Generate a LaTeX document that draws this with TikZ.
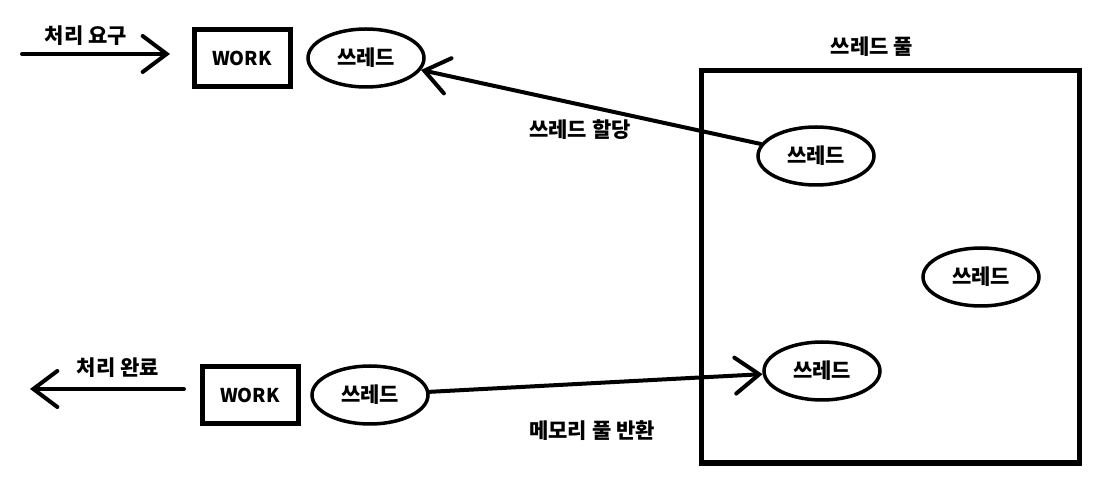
\documentclass[tikz,border=0pt]{standalone}
\usepackage{fontspec}
\setmainfont{Noto Sans CJK KR}
\usetikzlibrary{arrows.meta,shapes.geometric}
\tikzset{
  work/.style={draw, line width=5pt, minimum width=96pt, minimum height=57pt, inner sep=0pt, font=\bfseries\fontsize{19}{22}\selectfont},
  thr/.style={draw, ellipse, line width=3.5pt, minimum width=116pt, minimum height=58pt, inner sep=0pt, font=\bfseries\fontsize{21}{24}\selectfont},
  lbl/.style={font=\bfseries\fontsize{21}{24}\selectfont, inner sep=1pt},
  edge/.style={-{Straight Barb[length=24pt, width=36pt, line cap=round]}, line width=4pt, line cap=round},
}

\begin{document}
\begin{tikzpicture}[x=1pt,y=-1pt]
  \useasboundingbox (0,0) rectangle (1096,486);
  % request side
  \coordinate (in) at (22,54);
  \node[work] (w1) at (242,58) {WORK};
  \node[thr] (th1) at (366,58) {쓰레드};
  \draw[edge] (in) -- (170,54) coordinate (inend);
  \node[lbl] (req) at (86,36) {처리 요구};

  % pool
  \node[draw, line width=5pt, minimum width=378pt, minimum height=392pt, inner sep=0pt] (pool) at (890,267) {};
  \node[lbl] (pooltxt) at (872,47) {쓰레드 풀};
  \node[thr] (p1) at (816,156) {쓰레드};
  \node[thr] (p2) at (981,277) {쓰레드};
  \node[thr] (p3) at (822,371) {쓰레드};

  % done side
  \node[work] (w2) at (250,395) {WORK};
  \node[thr] (th2) at (370,395) {쓰레드};
  \coordinate (out) at (30,389);
  \draw[edge] (184,389) coordinate (outbeg) -- (out);
  \node[lbl] (done) at (118,368) {처리 완료};

  % connectors
  \draw[edge] (p1) -- (th1);
  \node[lbl] (assign) at (580,130) {쓰레드 할당};
  \draw[edge] (th2) -- (p3);
  \node[lbl] (ret) at (592,431) {메모리 풀 반환};
\end{tikzpicture}
\end{document}
